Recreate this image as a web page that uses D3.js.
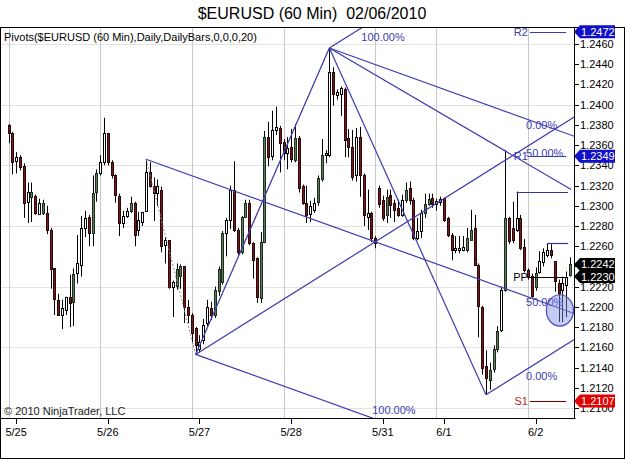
<!DOCTYPE html>
<html>
<head>
<meta charset="utf-8">
<script src="https://cdn.jsdelivr.net/npm/d3@7"></script>
<style>
  html, body { margin: 0; padding: 0; background: #fff; }
  svg { display: block; font-family: "Liberation Sans", Arial, sans-serif; }
</style>
</head>
<body>
<svg id="chart" width="625" height="460"></svg>
<script>
// Hourly EURUSD bars, 5/25 .. 6/2
const openP = [
  1.2380, 1.2372, 1.2344, 1.2348, 1.2339, 1.2304, 1.2309, 1.2310, 1.2292, 1.2293,
  1.2293, 1.2276, 1.2238, 1.2207, 1.2192, 1.2197, 1.2210, 1.2205, 1.2233, 1.2241,
  1.2278, 1.2289, 1.2273, 1.2313, 1.2332, 1.2343, 1.2372, 1.2343, 1.2330, 1.2310,
  1.2283, 1.2290, 1.2295, 1.2303, 1.2276, 1.2284, 1.2294, 1.2333, 1.2320, 1.2313,
  1.2316, 1.2261, 1.2266, 1.2220, 1.2220, 1.2230, 1.2240, 1.2200, 1.2192, 1.2179,
  1.2158, 1.2167, 1.2184, 1.2199, 1.2192, 1.2215, 1.2225, 1.2273, 1.2286, 1.2316,
  1.2276, 1.2254, 1.2289, 1.2303, 1.2263, 1.2248, 1.2209, 1.2264, 1.2368, 1.2349,
  1.2375, 1.2377, 1.2363, 1.2352, 1.2358, 1.2345, 1.2367, 1.2320, 1.2303, 1.2292,
  1.2296, 1.2303, 1.2326, 1.2350, 1.2350, 1.2432, 1.2410, 1.2410, 1.2415, 1.2367,
  1.2358, 1.2330, 1.2368, 1.2330, 1.2289, 1.2293, 1.2268, 1.2318, 1.2306, 1.2291,
  1.2311, 1.2303, 1.2298, 1.2291, 1.2306, 1.2318, 1.2306, 1.2268, 1.2275, 1.2293,
  1.2302, 1.2308, 1.2302, 1.2304, 1.2308, 1.2288, 1.2271, 1.2256, 1.2256, 1.2256,
  1.2256, 1.2266, 1.2278, 1.2241, 1.2200, 1.2142, 1.2128, 1.2138, 1.2158, 1.2177,
  1.2217, 1.2288, 1.2278, 1.2276, 1.2288, 1.2259, 1.2236, 1.2231, 1.2220, 1.2234,
  1.2244, 1.2251, 1.2256, 1.2245, 1.2224, 1.2217, 1.2222, 1.2231
];
const highP = [
  1.2381, 1.2373, 1.2353, 1.2350, 1.2342, 1.2323, 1.2323, 1.2311, 1.2307, 1.2306,
  1.2300, 1.2278, 1.2238, 1.2213, 1.2207, 1.2210, 1.2232, 1.2238, 1.2271, 1.2290,
  1.2295, 1.2291, 1.2330, 1.2336, 1.2350, 1.2387, 1.2372, 1.2345, 1.2331, 1.2312,
  1.2295, 1.2298, 1.2309, 1.2304, 1.2294, 1.2294, 1.2346, 1.2343, 1.2328, 1.2326,
  1.2319, 1.2269, 1.2266, 1.2226, 1.2243, 1.2242, 1.2240, 1.2207, 1.2194, 1.2180,
  1.2172, 1.2188, 1.2207, 1.2205, 1.2220, 1.2240, 1.2275, 1.2288, 1.2320, 1.2344,
  1.2278, 1.2290, 1.2306, 1.2306, 1.2264, 1.2249, 1.2274, 1.2374, 1.2383, 1.2394,
  1.2398, 1.2379, 1.2366, 1.2368, 1.2376, 1.2381, 1.2369, 1.2321, 1.2320, 1.2305,
  1.2308, 1.2330, 1.2366, 1.2355, 1.2456, 1.2437, 1.2415, 1.2418, 1.2417, 1.2376,
  1.2375, 1.2377, 1.2378, 1.2332, 1.2316, 1.2294, 1.2270, 1.2320, 1.2310, 1.2316,
  1.2316, 1.2306, 1.2306, 1.2311, 1.2323, 1.2324, 1.2308, 1.2288, 1.2296, 1.2312,
  1.2312, 1.2312, 1.2307, 1.2309, 1.2308, 1.2289, 1.2273, 1.2270, 1.2270, 1.2270,
  1.2278, 1.2296, 1.2291, 1.2243, 1.2201, 1.2157, 1.2145, 1.2162, 1.2181, 1.2220,
  1.2355, 1.2289, 1.2304, 1.2314, 1.2291, 1.2267, 1.2238, 1.2233, 1.2239, 1.2255,
  1.2258, 1.2263, 1.2262, 1.2245, 1.2227, 1.2230, 1.2235, 1.2249
];
const lowP = [
  1.2362, 1.2331, 1.2332, 1.2335, 1.2288, 1.2283, 1.2284, 1.2291, 1.2291, 1.2291,
  1.2272, 1.2218, 1.2192, 1.2192, 1.2178, 1.2192, 1.2180, 1.2181, 1.2223, 1.2230,
  1.2269, 1.2260, 1.2260, 1.2304, 1.2330, 1.2340, 1.2340, 1.2327, 1.2303, 1.2270,
  1.2278, 1.2288, 1.2293, 1.2260, 1.2270, 1.2280, 1.2294, 1.2318, 1.2285, 1.2300,
  1.2254, 1.2243, 1.2218, 1.2190, 1.2217, 1.2218, 1.2184, 1.2184, 1.2164, 1.2153,
  1.2155, 1.2163, 1.2181, 1.2187, 1.2189, 1.2211, 1.2222, 1.2250, 1.2277, 1.2274,
  1.2251, 1.2252, 1.2289, 1.2261, 1.2228, 1.2204, 1.2204, 1.2263, 1.2339, 1.2345,
  1.2370, 1.2333, 1.2345, 1.2336, 1.2343, 1.2343, 1.2313, 1.2301, 1.2283, 1.2284,
  1.2293, 1.2300, 1.2324, 1.2342, 1.2348, 1.2399, 1.2405, 1.2389, 1.2348, 1.2348,
  1.2325, 1.2324, 1.2309, 1.2280, 1.2276, 1.2264, 1.2258, 1.2298, 1.2285, 1.2283,
  1.2288, 1.2284, 1.2289, 1.2289, 1.2303, 1.2301, 1.2266, 1.2266, 1.2268, 1.2288,
  1.2300, 1.2298, 1.2295, 1.2300, 1.2284, 1.2269, 1.2246, 1.2253, 1.2253, 1.2255,
  1.2254, 1.2266, 1.2241, 1.2170, 1.2133, 1.2113, 1.2118, 1.2135, 1.2155, 1.2175,
  1.2215, 1.2262, 1.2263, 1.2274, 1.2256, 1.2234, 1.2227, 1.2209, 1.2216, 1.2233,
  1.2240, 1.2249, 1.2248, 1.2215, 1.2185, 1.2185, 1.2190, 1.2230
];
const closeP = [
  1.2372, 1.2343, 1.2348, 1.2338, 1.2302, 1.2314, 1.2314, 1.2293, 1.2303, 1.2303,
  1.2276, 1.2237, 1.2207, 1.2192, 1.2199, 1.2210, 1.2204, 1.2233, 1.2243, 1.2278,
  1.2288, 1.2273, 1.2313, 1.2332, 1.2343, 1.2372, 1.2343, 1.2330, 1.2310, 1.2283,
  1.2290, 1.2295, 1.2303, 1.2271, 1.2286, 1.2294, 1.2333, 1.2319, 1.2313, 1.2320,
  1.2261, 1.2266, 1.2220, 1.2225, 1.2237, 1.2240, 1.2199, 1.2192, 1.2174, 1.2162,
  1.2165, 1.2182, 1.2200, 1.2192, 1.2217, 1.2237, 1.2273, 1.2286, 1.2316, 1.2276,
  1.2254, 1.2289, 1.2303, 1.2263, 1.2246, 1.2209, 1.2264, 1.2368, 1.2348, 1.2375,
  1.2378, 1.2362, 1.2352, 1.2357, 1.2346, 1.2367, 1.2318, 1.2303, 1.2291, 1.2300,
  1.2303, 1.2327, 1.2350, 1.2352, 1.2432, 1.2410, 1.2413, 1.2416, 1.2365, 1.2358,
  1.2328, 1.2368, 1.2330, 1.2290, 1.2293, 1.2268, 1.2263, 1.2302, 1.2288, 1.2309,
  1.2301, 1.2296, 1.2291, 1.2306, 1.2316, 1.2306, 1.2268, 1.2275, 1.2293, 1.2302,
  1.2307, 1.2302, 1.2305, 1.2307, 1.2286, 1.2271, 1.2256, 1.2258, 1.2258, 1.2259,
  1.2268, 1.2276, 1.2241, 1.2200, 1.2140, 1.2130, 1.2138, 1.2158, 1.2176, 1.2217,
  1.2288, 1.2265, 1.2266, 1.2288, 1.2258, 1.2236, 1.2229, 1.2211, 1.2234, 1.2245,
  1.2254, 1.2256, 1.2251, 1.2225, 1.2214, 1.2224, 1.2230, 1.2242
];
// up bars that are painted with the filled (green) body
const greenBars = [6, 9, 17, 22, 23, 32, 44, 45, 54, 55, 56, 61, 62, 66, 67, 75, 81, 82,
  99, 104, 109, 110, 120, 121, 126, 127, 128, 130, 138, 147];

// sessions
const dayStarts = [0, 24, 48, 72, 96, 112, 136];
const dayLabels = ['5/25', '5/26', '5/27', '5/28', '5/31', '6/1', '6/2'];

// price axis
const priceTicks = [1.2100, 1.2120, 1.2140, 1.2160, 1.2180, 1.2200, 1.2220, 1.2240, 1.2260,
  1.2280, 1.2300, 1.2320, 1.2340, 1.2360, 1.2380, 1.2400, 1.2420, 1.2440, 1.2460];
const gridPrices = [1.2100, 1.2160, 1.2220, 1.2280, 1.2340, 1.2400, 1.2460];

// daily pivots for the 6/2 session
const pivotNames = ['R2', 'R1', 'PP', 'S1'];
const pivotValues = [1.2472, 1.2349, 1.2230, 1.2107];

// right axis price markers: R2, R1, last, PP, S1
const markerValues = [1.2472, 1.2349, 1.2242, 1.2230, 1.2107];

// drawing objects: pitchfork anchors (bar index, price)
const anchorA = [36, 1.2346];
const anchorB = [49, 1.2153];
const anchorC = [84, 1.2456];
const anchorD = [125, 1.2113];
const trendLine = [[84, 1.2456], [147.3, 1.2316]];
const swingHighs = [[133, 1.2314], [141, 1.2263]];
const ellipseBox = [[140.8, 1.2212], [147.9, 1.2181]];

const svg = d3.select('#chart');
const plot = { left: 1, right: 575, top: 28, bottom: 418 };

const x = d3.scaleLinear().domain([0, 147]).range([8.5, 570]);
const y = d3.scaleLinear().domain([1.2100, 1.2460]).range([408, 44]);

const blue = '#3c3cb0';
const fmt = d3.format('.4f');

// Title (keeps the double space)
svg.append('text')
  .attr('x', 312).attr('y', 19)
  .attr('text-anchor', 'middle')
  .attr('xml:space', 'preserve')
  .style('white-space', 'pre')
  .style('font-size', '16px')
  .text('$EURUSD (60 Min)  02/06/2010');

svg.append('defs').append('clipPath').attr('id', 'plot-clip')
  .append('rect')
  .attr('x', plot.left).attr('y', plot.top)
  .attr('width', plot.right - plot.left).attr('height', plot.bottom - plot.top);

// Grid
svg.append('g').selectAll('line').data(gridPrices).join('line')
  .attr('x1', plot.left).attr('x2', plot.right)
  .attr('y1', d => Math.round(y(d)) + 0.5).attr('y2', d => Math.round(y(d)) + 0.5)
  .attr('stroke', '#e2e2e2');

svg.append('g').selectAll('line').data(dayStarts).join('line')
  .attr('x1', d => Math.round(x(d)) + 0.5).attr('x2', d => Math.round(x(d)) + 0.5)
  .attr('y1', plot.top).attr('y2', plot.bottom)
  .attr('stroke', '#c8c8c8');

// Indicator caption and copyright
svg.append('text')
  .attr('x', 4).attr('y', 41)
  .style('font-size', '11px')
  .text('Pivots($EURUSD (60 Min),Daily,DailyBars,0,0,0,20)');

svg.append('text')
  .attr('x', 4).attr('y', 415)
  .style('font-size', '11px')
  .attr('fill', '#222')
  .text('\u00A9 2010 NinjaTrader, LLC');

// Candles
const bars = d3.range(openP.length).map(i => ({
  i, o: openP[i], h: highP[i], l: lowP[i], c: closeP[i]
}));
const cg = svg.append('g').attr('clip-path', 'url(#plot-clip)');

cg.selectAll('line').data(bars).join('line')
  .attr('x1', d => Math.round(x(d.i)) + 0.5).attr('x2', d => Math.round(x(d.i)) + 0.5)
  .attr('y1', d => y(d.h)).attr('y2', d => y(d.l))
  .attr('stroke', '#000');

function bodyFill(d) {
  if (d.c < d.o) return '#6e1b1b';
  return greenBars.includes(d.i) ? '#5e7b5e' : '#fff';
}
function bodyStroke(d) {
  if (d.c < d.o) return '#2e0808';
  return greenBars.includes(d.i) ? '#1f2f1f' : '#000';
}

cg.selectAll('rect').data(bars).join('rect')
  .attr('x', d => Math.round(x(d.i)) - 0.5)
  .attr('width', 2)
  .attr('y', d => Math.round(y(Math.max(d.o, d.c))) + 0.5)
  .attr('height', d => Math.max(1, Math.round(Math.abs(y(d.o) - y(d.c)))))
  .attr('fill', bodyFill)
  .attr('stroke', bodyStroke);

// Drawing objects (lines over the bars)
const dg = svg.append('g').attr('clip-path', 'url(#plot-clip)');
const px = p => [x(p[0]), y(p[1])];

function seg(p, q, opts = {}) {
  dg.append('line')
    .attr('x1', p[0]).attr('y1', p[1]).attr('x2', q[0]).attr('y2', q[1])
    .attr('stroke', opts.color || blue)
    .attr('stroke-width', opts.width || 1.2)
    .attr('stroke-dasharray', opts.dash || null);
}

// ray from point p with given slope out to the right edge of the plot
function rayEnd(p, slope) {
  return [plot.right, p[1] + slope * (plot.right - p[0])];
}

// where a ray leaves the plot (for label placement)
function exitX(p, slope) {
  const yEdge = rayEnd(p, slope)[1];
  if (yEdge < plot.top) return p[0] + (plot.top - p[1]) / slope;
  if (yEdge > plot.bottom) return p[0] + (plot.bottom - p[1]) / slope;
  return plot.right;
}

const labelX = x(135.5);
function levelLabel(p, slope, text) {
  const lx = Math.min(labelX, exitX(p, slope));
  const ly = p[1] + slope * (lx - p[0]) + 10;
  dg.append('text')
    .attr('x', lx).attr('y', Math.max(plot.top + 13, Math.min(plot.bottom - 4, ly)))
    .style('font-size', '11px')
    .attr('fill', blue)
    .text(text);
}

function pitchfork(a, b, c) {
  const p0 = px(a), p1 = px(b), p2 = px(c);
  const mid = [(p1[0] + p2[0]) / 2, (p1[1] + p2[1]) / 2];
  const slope = (mid[1] - p0[1]) / (mid[0] - p0[0]);
  seg(p0, rayEnd(p0, slope));
  seg(p1, rayEnd(p1, slope));
  seg(p2, rayEnd(p2, slope));
  seg(p1, p2);
  levelLabel(p1, slope, '100.00%');
  levelLabel(p0, slope, '50.00%');
  levelLabel(p2, slope, '0.00%');
}

// dotted swing path A-B-C
seg(px(anchorA), px(anchorB), { color: '#8a8a8a', width: 1, dash: '2,2' });
seg(px(anchorB), px(anchorC), { color: '#8a8a8a', width: 1, dash: '2,2' });

pitchfork(anchorA, anchorB, anchorC);
pitchfork(anchorB, anchorC, anchorD);
seg(px(trendLine[0]), px(trendLine[1]));

// swing high lines
swingHighs.forEach(s => {
  seg([x(s[0]), Math.round(y(s[1])) + 0.5], [x(146.5), Math.round(y(s[1])) + 0.5],
    { color: '#34349c', width: 1.2 });
});

// highlight ellipse
const e0 = px(ellipseBox[0]), e1 = px(ellipseBox[1]);
dg.append('ellipse')
  .attr('cx', (e0[0] + e1[0]) / 2).attr('cy', (e0[1] + e1[1]) / 2)
  .attr('rx', (e1[0] - e0[0]) / 2).attr('ry', (e1[1] - e0[1]) / 2)
  .attr('fill', '#7f8fe0').attr('fill-opacity', 0.45)
  .attr('stroke', '#4a4ac0').attr('stroke-width', 1.2);

// Pivot lines for the current session
const pivotLine = ['#3c3cb0', '#3c3cb0', '#000', '#7a0000'];
const pivotText = ['#3c3cb0', '#3c3cb0', '#000', '#c02020'];
pivotValues.forEach((v, k) => {
  const yy = Math.round(y(v)) + 0.5;
  seg([x(136.5), yy], [x(146), yy], { color: pivotLine[k], width: 1.2 });
  dg.append('text')
    .attr('x', x(136.5) - 2).attr('y', yy + 3)
    .attr('text-anchor', 'end')
    .style('font-size', '11px')
    .attr('fill', pivotText[k])
    .text(pivotNames[k]);
});

// Frames
svg.append('rect')
  .attr('x', 0.5).attr('y', plot.top - 0.5)
  .attr('width', 624).attr('height', 459 - plot.top)
  .attr('fill', 'none').attr('stroke', '#000');
svg.append('line')
  .attr('x1', 0).attr('x2', plot.right + 0.5)
  .attr('y1', plot.bottom + 0.5).attr('y2', plot.bottom + 0.5)
  .attr('stroke', '#000');
svg.append('line')
  .attr('x1', plot.right - 0.5).attr('x2', plot.right - 0.5)
  .attr('y1', plot.top).attr('y2', plot.bottom + 1)
  .attr('stroke', '#000');

// Right price axis
const ay = svg.append('g');
ay.selectAll('line').data(priceTicks).join('line')
  .attr('x1', plot.right).attr('x2', plot.right + 4)
  .attr('y1', d => Math.round(y(d)) + 0.5).attr('y2', d => Math.round(y(d)) + 0.5)
  .attr('stroke', '#000');
ay.selectAll('text').data(priceTicks).join('text')
  .attr('x', plot.right + 5).attr('y', d => y(d) + 4)
  .style('font-size', '11px')
  .text(d => fmt(d));

// Date axis
const ax = svg.append('g');
ax.selectAll('line').data(dayStarts).join('line')
  .attr('x1', d => Math.round(x(d + 2)) + 0.5).attr('x2', d => Math.round(x(d + 2)) + 0.5)
  .attr('y1', plot.bottom).attr('y2', plot.bottom + 6)
  .attr('stroke', '#000');
ax.selectAll('text').data(dayStarts).join('text')
  .attr('x', d => x(d + 2)).attr('y', plot.bottom + 18)
  .attr('text-anchor', 'middle')
  .style('font-size', '11px')
  .text((d, k) => dayLabels[k]);

// Price markers on the axis
const markerFill = ['#1010c8', '#1010c8', '#000', '#000', '#e00000'];
const mg = svg.append('g');
markerValues.forEach((v, k) => {
  const yc = y(v);
  mg.append('path')
    .attr('d', `M${plot.right - 1},${yc} L${plot.right + 5},${yc - 6.5} L${plot.right + 40},${yc - 6.5} ` +
      `L${plot.right + 40},${yc + 6.5} L${plot.right + 5},${yc + 6.5} Z`)
    .attr('fill', markerFill[k]);
  mg.append('text')
    .attr('x', plot.right + 6).attr('y', yc + 4)
    .style('font-size', '11px')
    .attr('fill', '#fff')
    .text(fmt(v));
});
</script>
</body>
</html>
